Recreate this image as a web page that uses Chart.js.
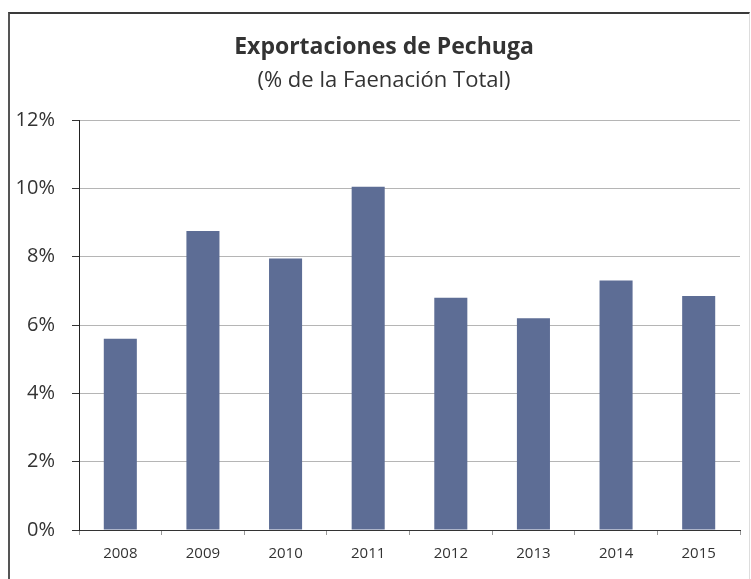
<!DOCTYPE html>
<html lang="es">
<head>
  <meta charset="UTF-8">
  <title>Exportaciones de Pechuga</title>
  <script src="https://cdn.jsdelivr.net/npm/chart.js"></script>
  <style>
    html, body {
      margin: 0;
      background: #fff;
      overflow: hidden;
      font-family: 'Open Sans', sans-serif;
      color: #333;
    }

    .frame {
      position: absolute;
      left: 8px;
      top: 12px;
      width: 739px;
      height: 600px;
      border-top: 2px solid #3a3a3a;
      border-left: 2px solid #555;
      border-right: 1px solid #ddd;
    }

    .wrap {
      position: absolute;
      left: 0;
      top: 0;
      width: 751px;
      height: 579px;
    }

    .heading {
      position: absolute;
      left: 184px;
      width: 400px;
      margin: 0;
      text-align: center;
      white-space: nowrap;
    }

    #chartTitle {
      top: 31px;
      font-size: 23px;
      line-height: 28px;
      font-weight: bold;
    }

    #chartSubtitle {
      top: 65px;
      font-size: 22px;
      line-height: 26px;
      font-weight: normal;
    }
  </style>
</head>
<body>
  <div class="frame"></div>
  <div class="wrap">
    <canvas id="pechugaChart" width="751" height="579"></canvas>
  </div>
  <h1 class="heading" id="chartTitle">Exportaciones de Pechuga</h1>
  <h2 class="heading" id="chartSubtitle">(% de la Faenación Total)</h2>

  <script>
    const years = ['2008', '2009', '2010', '2011', '2012', '2013', '2014', '2015'];
    const exportShare = [5.6, 8.75, 7.95, 10.05, 6.8, 6.2, 7.3, 6.85];
    const yTicks = [0, 2, 4, 6, 8, 10, 12];

    const ctx = document.getElementById('pechugaChart').getContext('2d');

    const pechugaChart = new Chart(ctx, {
      type: 'bar',
      data: {
        labels: years,
        datasets: [{
          label: 'Exportaciones',
          data: exportShare,
          backgroundColor: '#5d6d95',
          borderWidth: 0,
          barPercentage: 0.4,
          categoryPercentage: 1
        }]
      },
      options: {
        responsive: false,
        animation: false,
        layout: {
          padding: { left: 8, right: 11, top: 120, bottom: 14 }
        },
        plugins: {
          legend: { display: false },
          tooltip: { enabled: false }
        },
        scales: {
          x: {
            offset: true,
            grid: {
              offset: true,
              drawOnChartArea: false,
              drawTicks: true,
              tickLength: 5,
              tickColor: '#999'
            },
            border: { color: '#333', width: 1 },
            ticks: {
              color: '#333',
              padding: 10,
              font: { family: 'Open Sans', size: 15 }
            },
            afterFit: (scale) => { scale.height = 35; }
          },
          y: {
            min: 0,
            max: 12,
            afterBuildTicks: (scale) => {
              scale.ticks = yTicks.map(v => ({ value: v }));
            },
            grid: {
              color: '#b5b5b5',
              lineWidth: 1,
              drawTicks: true,
              tickLength: 7,
              tickColor: '#333'
            },
            border: { color: '#222', width: 1 },
            ticks: {
              color: '#333',
              padding: 17,
              font: { family: 'Open Sans', size: 20 },
              callback: (v) => v + '%'
            },
            afterFit: (scale) => { scale.width = 71; }
          }
        }
      }
    });
  </script>
</body>
</html>
